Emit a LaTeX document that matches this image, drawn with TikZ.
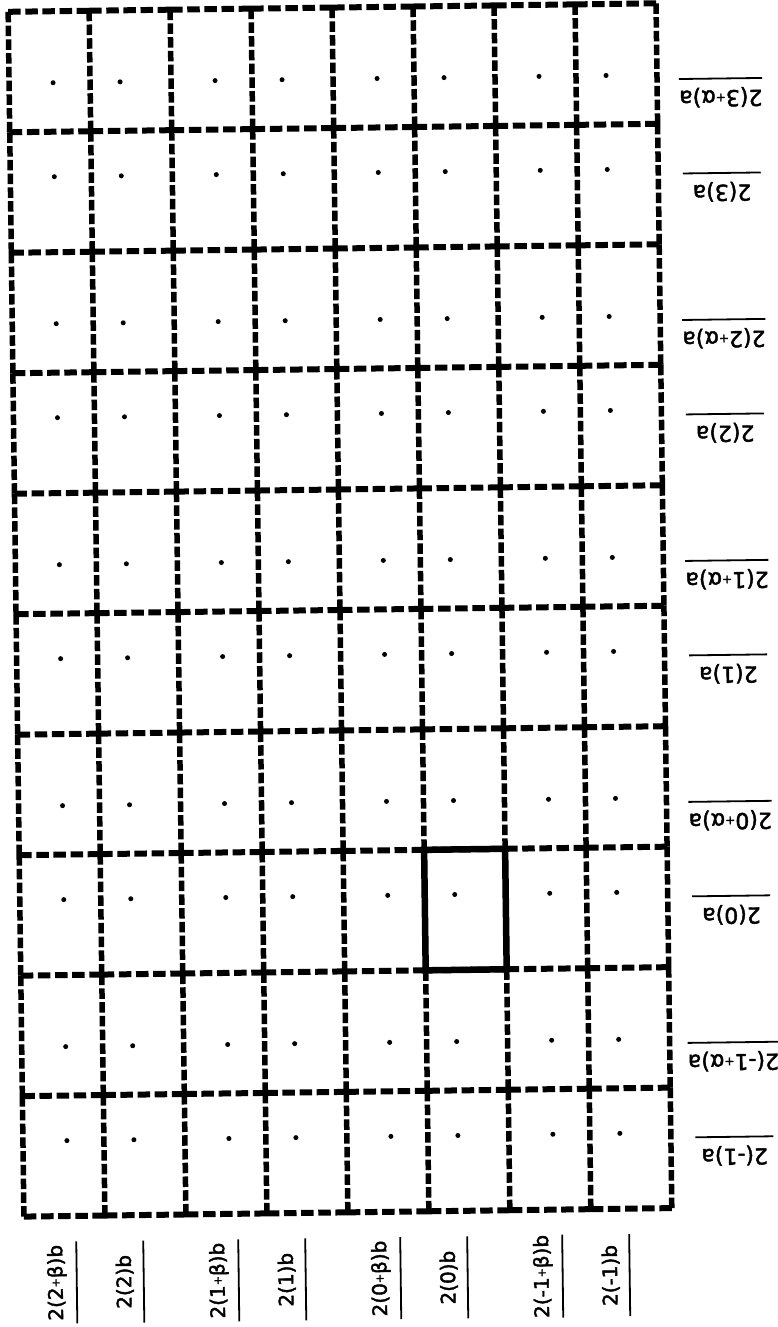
\documentclass[tikz,border=0pt]{standalone}
\usepackage{fontspec}
\usepackage{graphicx}
\setmainfont{DejaVu Sans}
\newfontfamily\labfont{DejaVu Sans}[FakeBold=2]
\newcommand\smallplus{\raisebox{0.15em}{\scalebox{0.55}{+}}}
\begin{document}
\begin{tikzpicture}[x=1pt,y=-1pt,
  gridh/.style={line width=6pt, dash pattern=on 12.5pt off 4.63pt},
  gridv/.style={line width=5.5pt, dash pattern=on 10.5pt off 3.25pt},
  boxline/.style={line width=6.5pt},
  dotmark/.style={circle, fill=black, inner sep=0pt, minimum size=5pt},
  rlab/.style={rotate=180, anchor=south, minimum width=78pt, inner xsep=0pt, inner ysep=9pt, outer sep=0pt, font=\labfont\fontsize{22}{22}\selectfont},
  blab/.style={rotate=90, anchor=south, minimum width=82pt, inner xsep=0pt, inner ysep=10pt, outer sep=0pt, font=\labfont\fontsize{20}{20}\selectfont},
  uline/.style={line width=1.8pt}
]
\useasboundingbox (0,0) rectangle (778,1327);
\begin{scope}[rotate around={0.75:(340,610)}, transform shape]
% grid intersections
\foreach \i in {0,...,8}
  \foreach \j in {0,...,10}
    \coordinate (g\i-\j) at ({16+81*\i},{7.5+120.5*\j});
% horizontal dashed segments
\foreach \j in {0,...,10}
  \foreach \i [count=\ip from 1] in {0,...,7}
    \draw[gridh] (g\i-\j) -- (g\ip-\j);
% vertical dashed segments
\foreach \i in {0,...,8}
  \foreach \j [count=\jp from 1] in {0,...,9}
    \draw[gridv] (g\i-\j) -- (g\i-\jp);
% highlighted cell
\draw[boxline] (g5-7) rectangle (g6-8);
% dots
\foreach \x [count=\ci] in {60,127,222,289,384,451,546,613}
  \foreach \y [count=\ri] in {79,173,320,414,561,655,802,896,1043,1137}
    \node[dotmark] (d\ci-\ri) at (\x,\y) {};
% right labels
\foreach \t/\y [count=\k] in {2(3\smallplus α)a/83.5, 2(3)a/178, 2(2\smallplus α)a/324.5, 2(2)a/419, 2(1\smallplus α)a/565.5, 2(1)a/660, 2(0\smallplus α)a/806.5, 2(0)a/901, 2(-1\smallplus α)a/1047.5, 2(-1)a/1142}
{
  \node[rlab] (ra\k) at (727.5,\y) {\t};
  \draw[uline] (ra\k.south west) -- (ra\k.south east);
}
% bottom labels
\foreach \t/\x [count=\k] in {2(2\smallplus β)b/68, 2(2)b/135, 2(1\smallplus β)b/230, 2(1)b/297, 2(0\smallplus β)b/392, 2(0)b/459, 2(-1\smallplus β)b/554, 2(-1)b/621}
{
  \node[blab] (bl\k) at (\x,1279) {\t};
  \draw[uline] (bl\k.south west) -- (bl\k.south east);
}
\end{scope}
\end{tikzpicture}
\end{document}
